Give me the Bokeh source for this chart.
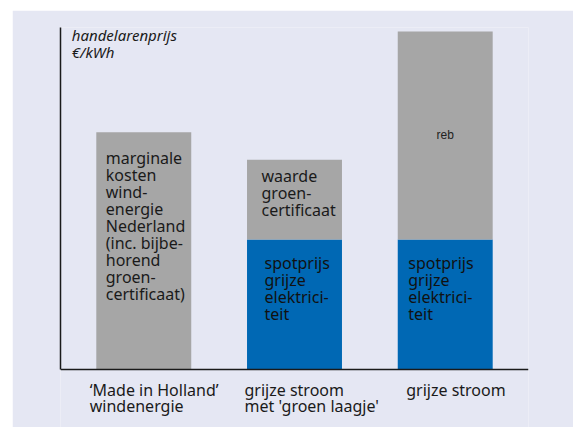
from bokeh.plotting import figure
from bokeh.models import FactorRange, Range1d, ColumnDataSource, FixedTicker
from bokeh.core.properties import value
from bokeh.embed import file_html
from bokeh.resources import INLINE

# ---- data ----
categories = ["\u2018Made in Holland\u2019\nwindenergie",
              "grijze stroom\nmet 'groen laagje'",
              "grijze stroom"]
spotprijs = [0.0, 3.85, 3.85]          # blue segment
meerprijs = [7.02, 2.36, 6.15]         # gray segment on top
gray_text = ["marginale\nkosten\nwind-\nenergie\nNederland\n(inc. bijbe-\nhorend\ngroen-\ncertificaat)",
             "waarde\ngroen-\ncertificaat",
             "reb"]
blue_text = ["", "spotprijs\ngrijze\nelektrici-\nteit", "spotprijs\ngrijze\nelektrici-\nteit"]
y_title = "handelarenprijs\n\u20ac/kWh"

BLUE = "#0068b4"
GRAY = "#a6a6a6"
BG = "#e5e7f3"
FONT = "Noto Sans"
Y_TOP = 10.12

src = ColumnDataSource(dict(cat=categories, spot=spotprijs, extra=meerprijs))

# the frame also holds the category labels below the zero line
p = figure(x_range=FactorRange(*categories, range_padding=0.035),
           y_range=Range1d(-1.716, Y_TOP),
           width=561, height=417, margin=(10, 0, 0, 12),
           output_backend="svg", toolbar_location=None,
           min_border_left=48, min_border_right=45,
           min_border_top=17, min_border_bottom=0)
p.background_fill_color = BG
p.border_fill_color = BG
p.outline_line_color = None
p.xgrid.visible = False
p.ygrid.visible = False

p.vbar_stack(["spot", "extra"], x="cat", width=0.63, source=src,
             color=[BLUE, GRAY], line_color=[BLUE, GRAY], line_width=0)

# axes: vertical axis only from 0 up, horizontal axis line at y = 0
p.yaxis.ticker = FixedTicker(ticks=[])
p.yaxis.bounds = (0, Y_TOP)
p.yaxis.axis_line_width = 1.5
p.yaxis.axis_line_color = "#1a1a1a"
p.yaxis.major_tick_out = 0
p.yaxis.minor_tick_out = 0
p.xaxis.fixed_location = 0
p.xaxis.axis_line_width = 1.5
p.xaxis.axis_line_color = "#1a1a1a"
p.xaxis.major_tick_line_color = None
p.xaxis.minor_tick_line_color = None
p.xaxis.major_tick_out = 0
p.xaxis.major_tick_in = 0
p.xaxis.major_label_standoff = 0
p.xaxis.major_label_text_font_size = "1px"
p.xaxis.major_label_text_color = None
p.xaxis.major_label_text_alpha = 0
p.xaxis.major_label_overrides = {c: "" for c in categories}

# category labels, lines left-aligned within each block
cat_lbl = ColumnDataSource(dict(x=categories, y=[0, 0, 0], t=categories, dx=[-54, -50, -39]))
p.text(x="x", y="y", text="t", source=cat_lbl, x_offset="dx", y_offset=9,
       text_font=value(FONT), text_font_size="16px", text_color="#1a1a1a",
       text_align="left", text_baseline="top", text_line_height=0.76)

# texts inside bars
tops = [s + e for s, e in zip(spotprijs, meerprijs)]
mids = [s + e / 2 for s, e in zip(spotprijs, meerprijs)]

lbl1 = ColumnDataSource(dict(x=[categories[0], categories[1]], y=[tops[0], tops[1]],
                             t=[gray_text[0], gray_text[1]], dx=[-38, -33], dy=[15, 5]))
p.text(x="x", y="y", text="t", source=lbl1, x_offset="dx", y_offset="dy",
       text_font=value(FONT), text_font_size="16px", text_color="#1a1a1a",
       text_align="left", text_baseline="top", text_line_height=0.77)

lbl2 = ColumnDataSource(dict(x=[categories[1], categories[2]], y=[spotprijs[1], spotprijs[2]],
                             t=[blue_text[1], blue_text[2]], dx=[-30, -37], dy=[13, 13]))
p.text(x="x", y="y", text="t", source=lbl2, x_offset="dx", y_offset="dy",
       text_font=value(FONT), text_font_size="16px", text_color="#111111",
       text_align="left", text_baseline="top", text_line_height=0.77)

p.text(x=[categories[2]], y=[mids[2]], text=[gray_text[2]],
       text_font=value("Liberation Sans"), text_font_size="12px", text_color="#222222",
       text_align="center", text_baseline="middle")

# y title inside the plot area
p.text(x=[categories[0]], y=[Y_TOP], text=[y_title], x_offset=-72, y_offset=-3,
       text_font=value(FONT), text_font_size="15px", text_font_style="italic",
       text_color="#1a1a1a", text_align="left", text_baseline="top",
       text_line_height=0.85)

open("out.html", "w").write(file_html(p, INLINE))
